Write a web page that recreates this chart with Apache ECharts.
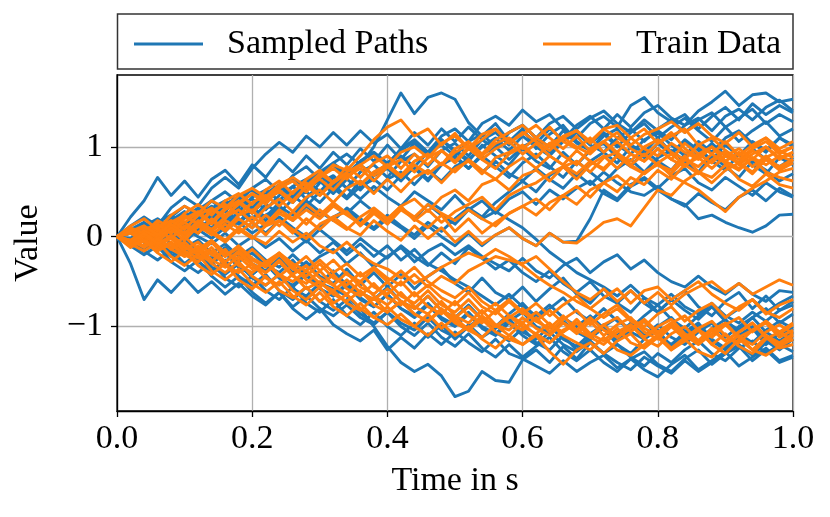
<!DOCTYPE html>
<html><head><meta charset="utf-8">
<script src="https://cdn.jsdelivr.net/npm/echarts@6/dist/echarts.min.js"></script>
<style>html,body{margin:0;padding:0;background:#fff}#c{width:830px;height:517px}</style>
</head><body><div id="c"></div>
<script>
const xTicks = [0, 0.2, 0.4, 0.6, 0.8, 1.0];
const yTicks = [-1, 0, 1];
const nSteps = 51;
const timeSteps = Array.from({length: nSteps}, (_, i) => +(i * 0.02).toFixed(2));

const sampledPaths = [
 [0,.08,.16,.06,.22,.34,.24,.4,.5,.38, .54,.64,.5,.68,.78,.64,.82,.92,.8,1.0, 1.3,1.6,1.37,1.55,1.6,1.53,1.27,1.12,1.26,1.06, 1.2,.98,1.14,1.24,1.06,.96,1.12,1.2,1.02,.94, 1.1,.94,1.06,.9,1.04,.9,.82,.98,.86,.78,.88],
 [0,.06,-.06,.08,.16,.04,.2,.3,.16,.34, .42,.3,.46,.56,.42,.6,.68,.54,.72,.8, .66,.84,.92,.78,.96,1.04,.9,1.08,1.16,1.02, 1.18,1.04,1.2,1.08,1.24,1.34,1.2,1.36,1.22,1.38, 1.46,1.32,1.24,1.4,1.5,1.62,1.46,1.58,1.6,1.5,1.53],
 [0,.1,.02,.16,.24,.12,.3,.4,.28,.44, .52,.38,.56,.66,.52,.7,.8,.66,.84,.94, .8,.98,1.08,.94,1.12,1.2,1.06,1.26,1.34,1.24, 1.41,1.28,1.36,1.2,1.1,1.26,1.34,1.22,1.46,1.55, 1.38,1.28,1.36,1.2,1.34,1.44,1.3,1.48,1.36,1.46,1.38],
 [0,.22,.4,.66,.46,.62,.44,.64,.74,.58, .8,.66,.86,.72,.9,.76,.94,.8,.98,.84, 1.02,.86,1.04,.9,1.08,.94,.84,1.02,.9,.8, .98,.84,.76,.94,.8,.96,1.04,.88,.78,.96, .84,.74,.92,1.0,.84,.74,.92,.8,.7,.88,.8],
 [0,.12,.22,.12,.32,.44,.34,.54,.66,.54, .76,.92,1.05,.94,1.12,1.0,1.16,1.02,1.18,1.04, 1.14,.98,1.16,1.02,1.2,1.06,1.22,1.08,.98,1.16, 1.24,1.1,1.0,1.18,1.04,.96,1.14,1.0,1.16,1.26, 1.1,1.22,1.32,1.18,1.06,1.22,1.06,1.18,1.28,1.12,1.2],
 [0,-.06,.04,.12,.02,.16,.06,.22,.3,.16, .32,.22,.38,.46,.34,.5,.58,.44,.62,.5, .64,.72,.58,.74,.62,.78,.86,.72,.84,.7, .62,.76,.64,.54,.7,.58,.72,.6,.5,.46, .56,.42,.36,.2,.24,.16,.1,.05,.12,.24,.25],
 [0,.06,-.04,-.08,.04,-.06,.08,-.02,.1,.16, .04,.14,.22,.1,0,.12,.22,.3,.18,.08, .2,.1,-.02,.12,0,-.1,.04,-.1,.02,.1, -.02,-.1,.04,-.06,-.05,.2,.52,.42,.58,.66, .54,.68,.76,.6,.52,.66,.56,.46,.6,.5,.44],
 [0,.04,.12,.2,.1,.22,.32,.2,.36,.44, .32,.48,.58,.46,.62,.72,.82,.7,.84,.94, .82,.96,1.06,.94,1.08,.96,.86,1.0,1.1,.96, 1.12,1.0,.9,1.06,1.16,1.02,.94,1.1,1.2,1.06, 1.2,1.3,1.16,1.3,1.38,1.22,1.32,1.42,1.26,1.36,1.28],
 [0,-.08,.04,-.06,.06,.14,.04,.16,.06,.2, .1,.24,.32,.18,.34,.22,.36,.26,.4,.28, .18,.32,.2,.36,.24,.14,.3,.4,.26,.42, .5,.36,.52,.42,.54,.62,.48,.4,.56,.64, .52,.42,.34,.48,.38,.3,.44,.52,.4,.54,.45],
 [0,.08,-.02,.12,.2,.1,.24,.34,.22,.38, .26,.42,.5,.38,.54,.62,.48,.64,.52,.68, .76,.62,.78,.64,.8,.9,.76,.9,.78,.66, .82,.92,.78,.66,.84,.72,.6,.76,.86,.72, .88,.96,.84,.72,.9,.78,.66,.84,.74,.62,.7],
 [0,.06,.14,.04,.14,.24,.14,.28,.36,.44, .32,.46,.56,.44,.6,.68,.56,.72,.8,.68, .82,.9,.78,.94,1.02,.9,1.06,1.14,1.0,1.16, 1.24,1.1,1.26,1.34,1.2,1.32,1.4,1.26,1.16,1.3, 1.18,1.08,1.24,1.32,1.18,1.34,1.42,1.3,1.44,1.52,1.4],
 [0,.04,-.06,.06,.14,.02,.18,.08,.24,.32, .2,.36,.26,.42,.5,.38,.54,.42,.56,.64, .52,.68,.76,.62,.8,.88,.76,.92,1.0,.86, 1.0,1.08,.94,1.1,1.18,1.04,1.16,1.02,.92,1.08, 1.16,1.02,.9,1.06,.94,1.1,1.18,1.04,.94,1.1,1.02],
 [0,.06,.14,.04,.18,.28,.16,.32,.4,.28, .44,.52,.4,.56,.64,.5,.66,.54,.42,.56, .44,.34,.5,.4,.3,.46,.3,.2,.28,.19, .1,-.03,-.17,-.28,-.4,-.48,-.56,-.66,-.54,-.68, -.76,-.64,-.78,-.86,-.74,-.88,-.96,-.84,-.94,-.82,-.76],
 [0,-.04,.08,0,.12,.04,.18,.1,.24,.14, .3,.18,.34,.24,.4,.28,.18,.32,.2,.1, .24,.12,.02,.16,.06,.2,.32,.22,.38,.5, .62,.5,.68,.78,.66,.84,.94,.82,1.0,.88, 1.04,.92,1.08,.96,.86,1.02,.9,1.06,.96,1.1,1.0],
 [0,-.08,-.16,-.06,-.2,-.3,-.18,-.34,-.42,-.3, -.46,-.54,-.42,-.58,-.66,-.52,-.58,-.66,-.8,-1.0, -1.22,-1.4,-1.5,-1.42,-1.55,-1.78,-1.72,-1.5,-1.6,-1.62, -1.37,-1.26,-1.4,-1.22,-1.36,-1.18,-1.3,-1.2,-1.34,-1.44, -1.3,-1.4,-1.26,-1.16,-1.3,-1.38,-1.24,-1.16,-1.3,-1.2,-1.28],
 [0,-.1,-.2,-.1,-.28,-.38,-.26,-.44,-.56,-.44, -.62,-.74,-.62,-.8,-.92,-.8,-.98,-1.08,-1.16,-1.04, -1.26,-1.12,-1.24,-1.08,-1.2,-1.06,-1.18,-1.28,-1.14,-1.3, -1.36,-1.44,-1.52,-1.38,-1.5,-1.4,-1.32,-1.46,-1.36,-1.28, -1.42,-1.5,-1.36,-1.26,-1.42,-1.3,-1.22,-1.38,-1.26,-1.4,-1.34],
 [0,-.3,-.7,-.48,-.62,-.46,-.62,-.5,-.64,-.52, -.66,-.76,-.62,-.78,-.66,-.8,-.88,-.76,-.9,-.98, -.84,-.96,-1.04,-.9,-1.04,-1.12,-.98,-1.12,-1.02,-.92, -1.06,-1.14,-1.0,-1.14,-1.22,-1.08,-.98,-1.16,-1.04,-.94, -1.1,-1.2,-1.06,-.96,-1.14,-1.24,-1.1,-1.0,-1.16,-1.26,-1.14],
 [0,.06,-.04,-.1,0,-.12,-.04,-.18,-.08,-.22, -.12,-.26,-.34,-.2,-.34,-.22,-.14,-.3,-.18,-.34, -.22,-.12,-.28,-.16,-.08,-.2,-.1,-.22,-.3,-.38, -.24,-.38,-.46,-.32,-.24,-.4,-.28,-.2,-.36,-.26, -.4,-.5,-.56,-.44,-.56,-.64,-.52,-.64,-.72,-.6,-.62],
 [0,-.06,-.14,-.04,-.18,-.08,-.22,-.3,-.18,-.34, -.42,-.3,-.46,-.54,-.42,-.58,-.66,-.54,-.7,-.78, -.64,-.8,-.88,-.74,-.9,-.98,-.84,-1.0,-1.08,-.94, -.84,-1.0,-1.08,-.94,-1.06,-1.14,-1.0,-.9,-1.06,-1.14, -1.0,-.9,-1.06,-1.16,-1.02,-.92,-1.08,-1.18,-1.04,-.94,-1.02],
 [0,-.08,.02,-.12,-.22,-.1,-.28,-.38,-.26,-.44, -.54,-.42,-.6,-.7,-.56,-.72,-.82,-.7,-.86,-.96, -.84,-1.0,-1.1,-.96,-1.12,-1.22,-1.08,-1.24,-1.34,-1.2, -1.34,-1.22,-1.12,-1.28,-1.38,-1.26,-1.4,-1.5,-1.36,-1.48, -1.56,-1.42,-1.32,-1.48,-1.38,-1.28,-1.44,-1.34,-1.24,-1.38,-1.32],
 [0,.05,-.06,.04,-.08,-.16,-.04,-.2,-.28,-.14, -.3,-.38,-.24,-.4,-.28,-.44,-.52,-.36,-.54,-.4, -.56,-.42,-.58,-.44,-.34,-.52,-.62,-.46,-.62,-.7, -.56,-.72,-.58,-.46,-.64,-.74,-.58,-.74,-.84,-.68, -.84,-.7,-.6,-.78,-.88,-.72,-.62,-.8,-.66,-.82,-.72],
 [0,-.06,-.16,-.26,-.14,-.3,-.4,-.28,-.46,-.56, -.44,-.6,-.7,-.56,-.74,-.84,-.7,-.88,-.98,-.84, -1.0,-1.1,-.96,-1.12,-.98,-1.14,-1.0,-.9,-1.06,-1.16, -1.02,-1.18,-1.26,-1.1,-1.26,-1.12,-1.02,-1.2,-1.3,-1.14, -1.04,-1.22,-1.1,-.98,-1.16,-1.26,-1.12,-1.02,-1.2,-1.08,-1.02],
 [0,.06,-.04,.08,-.02,.1,0,-.08,.04,-.1, 0,-.12,-.02,-.16,-.04,-.18,-.06,-.2,-.08,-.22, -.1,-.26,-.14,-.3,-.38,-.48,-.56,-.66,-.76,-.64, -.78,-.88,-.76,-.9,-1.0,-.88,-1.02,-1.1,-.96,-1.1, -.98,-1.12,-1.2,-1.06,-.96,-1.12,-1.0,-.9,-1.06,-1.16,-1.06],
 [0,-.04,-.12,-.02,-.16,-.06,-.22,-.3,-.16,-.34, -.42,-.3,-.46,-.56,-.42,-.58,-.66,-.52,-.68,-.78, -.64,-.8,-.9,-.76,-.92,-1.0,-.86,-1.02,-1.1,-.96, -1.1,-1.2,-1.06,-1.2,-1.28,-1.16,-1.3,-1.4,-1.48,-1.34, -1.44,-1.52,-1.38,-1.5,-1.4,-1.3,-1.2,-1.32,-1.18,-1.08,-1.16],
 [0,-.02,.08,-.04,-.12,-.02,-.16,-.24,-.12,-.28, -.18,-.32,-.4,-.26,-.44,-.52,-.38,-.54,-.62,-.7, -.56,-.72,-.8,-.66,-.82,-.9,-.76,-.92,-1.0,-.86, -.74,-.9,-.8,-.68,-.84,-.94,-.8,-.94,-1.02,-.88, -.76,-.92,-1.02,-.88,-.78,-.94,-1.04,-.9,-.8,-.96,-.86],
 [0,.04,.12,.02,.14,.04,.16,.26,.12,.28, .16,.04,.18,.06,-.06,.08,-.04,-.16,-.02,-.14, -.24,-.1,-.22,-.32,-.18,-.3,-.12,-.24,-.36,-.26, -.4,-.5,-.38,-.52,-.62,-.5,-.66,-.74,-.6,-.74, -.84,-.7,-.82,-.92,-.78,-.9,-.8,-.7,-.84,-.74,-.66]
];

const trainPaths = [
 [0,.08,.02,.14,.1,.22,.15,.3,.24,.36, .48,.4,.55,.62,.5,.66,.8,.74,.9,1.08, 1.22,1.3,1.12,1.2,1.02,1.15,.98,1.08,1.2,1.05, 1.14,1.24,1.1,.98,1.12,.95,1.06,1.16,.98,.9, 1.04,1.12,1.2,1.02,.92,1.06,.9,1.02,1.1,.94,1.0],
 [0,-.06,.08,.14,.04,.16,.26,.14,.3,.38, .26,.42,.5,.38,.56,.46,.6,.7,.58,.72, .8,.68,.84,.92,.8,.98,1.06,.92,1.08,1.16, 1.24,1.1,1.22,1.06,.98,1.1,.94,1.06,.92,.84, .98,.86,.78,.92,1.0,.84,.94,.78,.9,.76,.86],
 [0,.06,-.04,.08,-.02,.12,.04,.18,.06,.2, .1,.24,.12,.28,.14,.3,.18,.08,.22,.32, .2,.34,.18,.3,.16,.28,.36,.44,.3,.46, .54,.6,.7,.78,.64,.8,.9,.76,.92,.84, .98,.86,1.04,.92,.82,.96,.8,.92,1.0,.86,.94],
 [0,-.08,.04,-.06,.08,-.04,.12,.02,.14,.04, .16,.02,.18,.08,-.02,.14,.22,.1,.02,.18, .06,-.04,.12,-.02,.1,-.06,.06,-.08,.02,.1, -.02,-.1,.04,-.06,-.07,.04,.16,.2,.12,.32, .52,.46,.62,.72,.6,.74,.82,.7,.86,.74,.82],
 [0,.1,.04,.18,.1,.26,.36,.24,.4,.48, .36,.52,.62,.48,.64,.74,.6,.78,.66,.82, .9,.76,.92,.8,.96,.82,.98,.86,.76,.92, 1.0,.88,1.04,.9,.8,.98,1.06,.92,.84,1.0, 1.08,.94,.86,1.02,1.1,.96,.86,.98,1.06,.92,1.0],
 [0,.04,-.06,.06,.14,.02,.18,.08,.22,.3, .16,.32,.42,.28,.44,.52,.38,.54,.62,.48, .64,.5,.66,.74,.6,.76,.84,.7,.88,.94, 1.02,.88,1.04,1.1,1.18,1.04,1.2,1.24,1.1,1.2, 1.04,1.16,.98,.88,1.0,.84,.76,.88,.72,.66,.62],
 [0,-.06,.06,-.02,.1,.16,.04,.2,.08,.24, .3,.14,.3,.2,.36,.24,.38,.26,.14,.3, .18,.34,.42,.28,.44,.52,.4,.58,.64,.52, .68,.74,.62,.78,.84,.72,.88,.94,.8,.92, .8,.74,.9,.72,.66,.8,.64,.56,.7,.58,.54],
 [0,.06,-.04,.1,.18,.08,.24,.32,.2,.38, .48,.36,.54,.62,.5,.66,.76,.64,.8,.9, .78,.94,1.0,.88,1.04,1.12,.98,1.14,1.2,1.04, 1.16,1.06,.96,1.1,1.0,.92,1.06,.94,1.1,.98, .9,1.04,.94,.86,1.0,.9,.82,.96,.86,.78,.86],
 [0,.04,.1,-.02,.1,0,.14,.04,-.06,.08, -.02,.12,.18,.04,.2,.08,.22,.28,.12,.26, .14,.3,.2,.1,.24,.06,.2,.04,.16,.26, .34,.24,.38,.46,.36,.52,.6,.5,.66,.58, .74,.64,.8,.88,.76,.9,.98,.86,1.0,.88,.94],
 [0,.08,-.02,.14,.04,.2,.28,.16,.32,.4, .28,.44,.52,.4,.56,.64,.52,.68,.76,.62, .78,.86,.72,.88,.96,.84,1.0,.86,.98,1.06, .92,1.04,.9,.8,.96,.84,.74,.9,.78,.7, .82,.68,.6,.52,.4,.28,.44,.54,.62,.72,.76],
 [0,.04,.12,.02,.16,.24,.14,.28,.36,.24, .38,.46,.34,.5,.6,.46,.62,.7,.58,.72, .8,.68,.84,.92,.8,.94,1.02,.9,1.04,1.1, .98,1.1,1.0,1.12,1.18,1.06,1.2,1.1,1.02,1.14, 1.2,1.28,1.16,1.26,1.12,1.04,1.16,1.0,1.1,.98,1.06],
 [0,.12,.2,.08,.24,.34,.26,.4,.32,.46, .54,.44,.58,.66,.56,.7,.6,.72,.8,.68, .78,.66,.8,.7,.82,.72,.86,.74,.64,.78, .88,.76,.9,.8,.7,.84,.76,.9,.8,.7, .82,.92,.8,.7,.86,.94,.82,.72,.88,.96,.88],
 [0,-.04,.06,0,.1,.04,.14,.06,.18,.1, .22,.12,.26,.18,.3,.2,.34,.24,.14,.28, .2,.32,.22,.36,.26,.18,.3,.2,.12,.26, .34,.42,.3,.46,.56,.44,.6,.68,.56,.72, .8,.7,.86,.78,.92,.82,.74,.88,.8,.9,.84],
 [0,-.08,-.02,-.14,-.06,-.2,-.28,-.16,-.32,-.4, -.3,-.46,-.54,-.42,-.58,-.5,-.64,-.72,-.6,-.76, -.84,-.72,-.86,-.94,-.82,-.96,-1.04,-.92,-1.06,-1.14, -1.2,-1.1,-1.28,-1.42,-1.26,-1.18,-1.3,-1.16,-1.08,-1.24, -1.12,-1.26,-1.16,-1.04,-1.2,-1.3,-1.14,-1.26,-1.12,-1.24,-1.2],
 [0,-.05,.04,-.06,-.12,0,-.14,-.04,-.18,-.26, -.14,-.28,-.18,-.3,-.38,-.26,-.4,-.3,-.44,-.34, -.46,-.54,-.42,-.56,-.44,-.52,-.38,-.3,-.22,-.26, -.3,-.22,-.36,-.5,-.62,-.7,-.58,-.72,-.6,-.74, -.62,-.76,-.64,-.56,-.5,-.62,-.52,-.64,-.56,-.48,-.54],
 [0,.06,-.06,-.12,0,-.14,-.06,-.2,-.28,-.16, -.3,-.4,-.28,-.44,-.52,-.38,-.54,-.64,-.5,-.66, -.76,-.62,-.78,-.86,-.72,-.88,-.96,-.82,-.98,-1.04, -.9,-1.02,-1.1,-.96,-1.08,-.94,-1.1,-.98,-.9,-1.06, -1.14,-1.0,-1.14,-1.02,-.94,-1.1,-1.18,-1.04,-.96,-1.12,-1.04],
 [0,-.08,-.16,-.06,-.22,-.32,-.2,-.38,-.48,-.36, -.52,-.62,-.5,-.66,-.76,-.62,-.78,-.88,-.74,-.9, -.78,-.92,-1.0,-.86,-1.02,-.9,-1.04,-1.12,-.98,-1.1, -.96,-1.1,-1.18,-1.04,-.96,-1.12,-1.2,-1.06,-.98,-1.14, -1.22,-1.08,-1.0,-1.16,-1.04,-.96,-1.12,-1.2,-1.06,-.98,-1.08],
 [0,.06,-.04,-.1,.02,-.1,-.18,-.06,-.22,-.12, -.26,-.34,-.2,-.36,-.44,-.3,-.46,-.54,-.4,-.56, -.64,-.5,-.66,-.54,-.68,-.76,-.62,-.78,-.86,-.72, -.86,-.74,-.88,-.76,-.66,-.8,-.68,-.58,-.74,-.6, -.56,-.7,-.6,-.5,-.64,-.74,-.82,-.7,-.84,-.9,-.8],
 [0,-.04,-.1,0,-.14,-.22,-.1,-.26,-.34,-.22, -.36,-.28,-.42,-.5,-.38,-.52,-.6,-.48,-.62,-.7, -.58,-.72,-.8,-.66,-.82,-.9,-.78,-.92,-1.0,-.88, -1.0,-1.08,-.96,-1.1,-1.18,-1.26,-1.12,-1.26,-1.32,-1.2, -1.1,-1.26,-1.14,-1.28,-1.34,-1.2,-1.1,-1.26,-1.32,-1.22,-1.14],
 [0,-.12,-.04,-.18,-.28,-.16,-.32,-.42,-.3,-.48, -.58,-.44,-.6,-.68,-.56,-.72,-.6,-.74,-.82,-.68, -.84,-.72,-.86,-.94,-.8,-.94,-1.02,-.88,-1.0,-.9, -.8,-.94,-1.02,-.88,-1.04,-1.12,-.98,-.9,-1.06,-.94, -1.08,-.96,-.88,-1.04,-1.12,-.98,-.9,-1.06,-.94,-1.08,-.98],
 [0,.06,.12,.02,.14,.04,.16,.06,-.04,.1, 0,-.08,.06,-.06,.04,-.1,-.18,-.06,-.2,-.3, -.36,-.46,-.34,-.5,-.6,-.68,-.56,-.72,-.82,-.7, -.84,-.94,-.82,-.96,-1.04,-.9,-1.04,-1.12,-.98,-1.12, -1.0,-.92,-1.08,-1.16,-1.02,-1.16,-1.06,-.96,-1.12,-1.2,-1.1],
 [0,-.06,.02,-.1,-.02,-.16,-.24,-.12,-.28,-.18, -.32,-.4,-.26,-.42,-.32,-.46,-.54,-.4,-.56,-.64, -.5,-.66,-.74,-.6,-.76,-.84,-.7,-.86,-.74,-.88, -.96,-.84,-.98,-1.06,-.92,-1.08,-1.16,-1.02,-1.18,-1.24, -1.1,-1.24,-1.12,-1.02,-1.2,-1.08,-1.22,-1.3,-1.14,-1.06,-1.16],
 [0,-.04,-.12,-.02,-.14,-.06,-.2,-.28,-.14,-.32, -.4,-.28,-.44,-.32,-.48,-.56,-.42,-.58,-.66,-.52, -.68,-.76,-.62,-.78,-.86,-.72,-.88,-.96,-.82,-.96, -1.04,-.9,-1.06,-.92,-.82,-.98,-.86,-.76,-.92,-1.0, -.86,-.78,-.94,-.82,-.74,-.9,-.78,-.7,-.86,-.76,-.7],
 [0,-.06,.04,-.08,0,-.12,-.2,-.06,-.22,-.1, -.24,-.32,-.18,-.34,-.22,-.38,-.26,-.42,-.5,-.36, -.5,-.38,-.52,-.44,-.34,-.26,-.18,-.24,-.14,-.22, -.32,-.44,-.54,-.62,-.72,-.8,-.9,-.8,-.94,-1.02, -1.1,-.98,-1.1,-1.18,-1.04,-1.16,-1.06,-.96,-1.1,-1.18,-1.08],
 [0,-.1,-.04,-.16,-.08,-.22,-.14,-.3,-.4,-.28, -.44,-.54,-.42,-.6,-.7,-.56,-.74,-.64,-.8,-.9, -.98,-.86,-1.0,-1.1,-.96,-1.1,-1.0,-1.14,-1.24,-1.1, -1.2,-1.08,-1.18,-1.06,-.96,-1.1,-.98,-1.12,-1.02,-.92, -1.06,-.96,-1.1,-1.2,-1.08,-.98,-1.12,-1.04,-.94,-1.06,-.96]
];

const BLUE = '#1f77b4', ORANGE = '#ff7f0e';
const FONT = '"Liberation Serif", "DejaVu Serif", serif';

function mk(paths, name, color, z) {
  return paths.map(p => ({
    type: 'line', name: name, color: color, z: z,
    data: p.map((v, i) => [timeSteps[i], v]),
    showSymbol: false, symbol: 'none', silent: true,
    lineStyle: { color: color, width: 2.9, join: 'round' }, itemStyle: { color: color },
    clip: true
  }));
}

const chart = echarts.init(document.getElementById('c'), null, { renderer: 'canvas' });
chart.setOption({
  animation: false,
  backgroundColor: '#fff',
  grid: { left: 117, right: 37, top: 75, bottom: 106, show: true, borderColor: '#000', borderWidth: 1.3, containLabel: false },
  legend: [
    { data: ['Sampled Paths'], left: 129, top: 22, icon: 'rect', itemWidth: 69, itemHeight: 3,
      textStyle: { fontFamily: FONT, fontSize: 34, color: '#000', padding: [0, 0, 0, 19] }, selectedMode: false },
    { data: ['Train Data'], left: 538, top: 22, icon: 'rect', itemWidth: 68, itemHeight: 3,
      textStyle: { fontFamily: FONT, fontSize: 34, color: '#000', padding: [0, 0, 0, 20] }, selectedMode: false }
  ],
  graphic: [{ type: 'rect', shape: { x: 117.5, y: 14, width: 675.5, height: 55 },
    style: { fill: 'none', stroke: '#333', lineWidth: 1.5 }, silent: true, z: 100 }],
  xAxis: {
    type: 'value', min: 0, max: 1, interval: 0.2,
    name: 'Time in s', nameLocation: 'middle', nameGap: 53,
    nameTextStyle: { fontFamily: FONT, fontSize: 34, color: '#000' },
    axisLine: { show: true, onZero: false, lineStyle: { color: '#000', width: 1.3 } },
    axisTick: { show: true, inside: false, length: 6, lineStyle: { color: '#000', width: 1.3 } },
    axisLabel: { fontFamily: FONT, fontSize: 34, color: '#000', margin: 11,
      formatter: v => v.toFixed(1), showMinLabel: true, showMaxLabel: true },
    splitLine: { show: true, lineStyle: { color: '#b0b0b0', width: 1.3 } }
  },
  yAxis: {
    type: 'value', min: -1.94, max: 1.8,
    name: 'Value', nameLocation: 'middle', nameGap: 72, nameRotate: 90,
    nameTextStyle: { fontFamily: FONT, fontSize: 34, color: '#000' },
    axisLine: { show: true, onZero: false, lineStyle: { color: '#000', width: 1.3 } },
    axisTick: { show: true, inside: false, length: 6, customValues: yTicks, lineStyle: { color: '#000', width: 1.3 } },
    axisLabel: { fontFamily: FONT, fontSize: 34, color: '#000', margin: 14, customValues: yTicks,
      formatter: v => (v < 0 ? '\u2212' + Math.abs(v) : String(v)) },
    splitLine: { show: true, lineStyle: { color: '#b0b0b0', width: 1.3 } }
  },
  series: [].concat(mk(sampledPaths, 'Sampled Paths', BLUE, 2), mk(trainPaths, 'Train Data', ORANGE, 3))
});
</script></body></html>
